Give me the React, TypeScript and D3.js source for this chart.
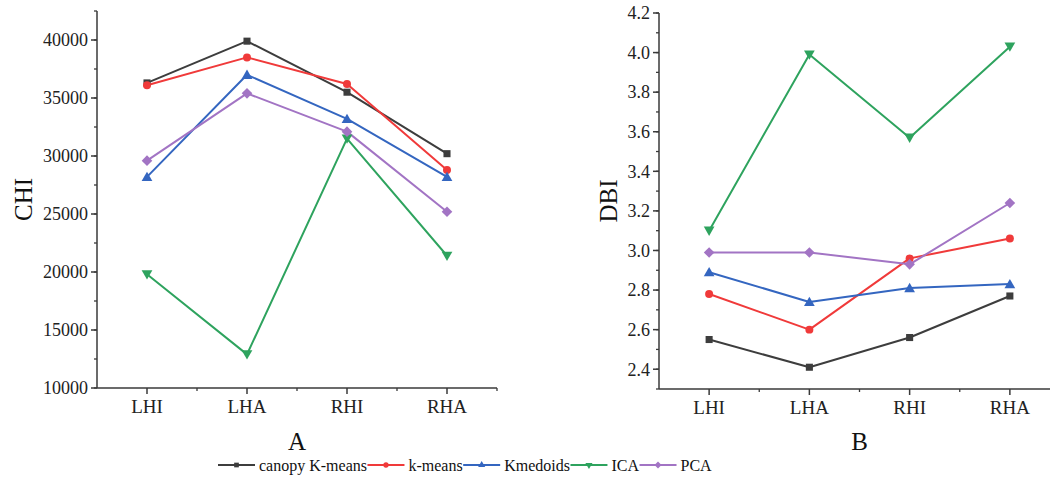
import React, { useEffect, useRef } from "react";
import * as d3 from "d3";

const categories = ["LHI", "LHA", "RHI", "RHA"];
const seriesNames = ["canopy K-means", "k-means", "Kmedoids", "ICA", "PCA"];
const seriesColors = ["#3d3d3d", "#f03a3a", "#3466c0", "#2ea35e", "#a274c4"];
const seriesMarkers = ["square", "circle", "triangle", "triangleDown", "diamond"];

const chiCanopy = [36300, 39900, 35500, 30200];
const chiKmeans = [36100, 38500, 36200, 28800];
const chiKmedoids = [28200, 37000, 33200, 28200];
const chiICA = [19800, 12900, 31500, 21400];
const chiPCA = [29600, 35400, 32100, 25200];

const dbiCanopy = [2.55, 2.41, 2.56, 2.77];
const dbiKmeans = [2.78, 2.6, 2.96, 3.06];
const dbiKmedoids = [2.89, 2.74, 2.81, 2.83];
const dbiICA = [3.1, 3.99, 3.57, 4.03];
const dbiPCA = [2.99, 2.99, 2.93, 3.24];

const chiTicks = [10000, 15000, 20000, 25000, 30000, 35000, 40000];
const dbiTicks = [2.4, 2.6, 2.8, 3.0, 3.2, 3.4, 3.6, 3.8, 4.0, 4.2];

const FONT = "'Liberation Serif', 'Times New Roman', serif";
const AXIS_COLOR = "#3a3a3a";

function markerPath(type: string, size: number) {
  if (type === "diamond") {
    const r = Math.sqrt(size) * 0.75;
    return `M0,${-r}L${r},0L0,${r}L${-r},0Z`;
  }
  const map: Record<string, d3.SymbolType> = {
    square: d3.symbolSquare,
    circle: d3.symbolCircle,
    triangle: d3.symbolTriangle,
    triangleDown: d3.symbolTriangle,
  };
  return d3.symbol().type(map[type]).size(size)() as string;
}

function drawPanel(
  g: d3.Selection<SVGGElement, unknown, null, undefined>,
  opts: {
    x0: number; x1: number; y0: number; y1: number;
    domain: [number, number]; ticks: number[]; minorStep: number;
    fmt: (v: number) => string; data: number[][]; yTitle: string; yTitleX: number; label: string;
  }
) {
  const x = d3.scaleLinear().domain([-0.5, 3.5]).range([opts.x0, opts.x1]);
  const y = d3.scaleLinear().domain(opts.domain).range([opts.y1, opts.y0]);

  g.append("line").attr("x1", opts.x0).attr("x2", opts.x0).attr("y1", opts.y0).attr("y2", opts.y1)
    .attr("stroke", AXIS_COLOR).attr("stroke-width", 1.5);
  g.append("line").attr("x1", opts.x0).attr("x2", opts.x1).attr("y1", opts.y1).attr("y2", opts.y1)
    .attr("stroke", AXIS_COLOR).attr("stroke-width", 1.5);

  const minor: number[] = [];
  for (let v = opts.domain[0]; v <= opts.domain[1] + 1e-9; v += opts.minorStep) minor.push(+v.toFixed(6));
  g.selectAll(null).data(minor).enter().append("line")
    .attr("x1", opts.x0 - 3).attr("x2", opts.x0).attr("y1", (d) => y(d)).attr("y2", (d) => y(d))
    .attr("stroke", AXIS_COLOR).attr("stroke-width", 1.3);
  g.selectAll(null).data(opts.ticks).enter().append("line")
    .attr("x1", opts.x0 - 6).attr("x2", opts.x0).attr("y1", (d) => y(d)).attr("y2", (d) => y(d))
    .attr("stroke", AXIS_COLOR).attr("stroke-width", 1.5);
  g.selectAll(null).data(opts.ticks).enter().append("text")
    .attr("x", opts.x0 - 9).attr("y", (d) => y(d)).attr("dy", "0.35em")
    .attr("text-anchor", "end").attr("font-family", FONT).attr("font-size", 18).attr("fill", "#222")
    .text((d) => opts.fmt(d));

  const majorX = categories.map((_, i) => i);
  const minorX = [0.5, 1.5, 2.5, 3.5];
  g.selectAll(null).data(majorX).enter().append("line")
    .attr("x1", (d) => x(d)).attr("x2", (d) => x(d)).attr("y1", opts.y1).attr("y2", opts.y1 + 6)
    .attr("stroke", AXIS_COLOR).attr("stroke-width", 1.5);
  g.selectAll(null).data(minorX).enter().append("line")
    .attr("x1", (d) => x(d)).attr("x2", (d) => x(d)).attr("y1", opts.y1).attr("y2", opts.y1 + 3)
    .attr("stroke", AXIS_COLOR).attr("stroke-width", 1.3);
  g.selectAll(null).data(categories).enter().append("text")
    .attr("x", (_, i) => x(i)).attr("y", opts.y1 + 25)
    .attr("text-anchor", "middle").attr("font-family", FONT).attr("font-size", 19).attr("fill", "#222")
    .text((d) => d);

  g.append("text").attr("transform", `translate(${opts.yTitleX},${(opts.y0 + opts.y1) / 2}) rotate(-90)`)
    .attr("text-anchor", "middle").attr("font-family", FONT).attr("font-size", 25).attr("fill", "#111")
    .text(opts.yTitle);
  g.append("text").attr("x", (opts.x0 + opts.x1) / 2).attr("y", 450)
    .attr("text-anchor", "middle").attr("font-family", FONT).attr("font-size", 25).attr("fill", "#111")
    .text(opts.label);

  const line = d3.line<number>().x((_, i) => x(i)).y((d) => y(d));
  opts.data.forEach((vals, si) => {
    g.append("path").attr("d", line(vals) as string).attr("fill", "none")
      .attr("stroke", seriesColors[si]).attr("stroke-width", 2).attr("stroke-linejoin", "round");
  });
  opts.data.forEach((vals, si) => {
    const type = seriesMarkers[si];
    g.selectAll(null).data(vals).enter().append("path")
      .attr("d", markerPath(type, 50))
      .attr("transform", (d, i) => `translate(${x(i)},${y(d) + (type === "triangle" ? 1 : type === "triangleDown" ? -1 : 0)})${type === "triangleDown" ? " rotate(180)" : ""}`)
      .attr("fill", seriesColors[si]);
  });
}

export default function App() {
  const ref = useRef<SVGSVGElement>(null);
  useEffect(() => {
    const svg = d3.select(ref.current!);
    svg.selectAll("*").remove();

    drawPanel(svg.append("g"), {
      x0: 97, x1: 497, y0: 11, y1: 388, domain: [10000, 42500], ticks: chiTicks, minorStep: 2500,
      fmt: (v) => String(v), data: [chiCanopy, chiKmeans, chiKmedoids, chiICA, chiPCA],
      yTitle: "CHI", yTitleX: 32, label: "A",
    });
    drawPanel(svg.append("g"), {
      x0: 659, x1: 1060, y0: 13, y1: 389, domain: [2.3, 4.2], ticks: dbiTicks, minorStep: 0.1,
      fmt: (v) => v.toFixed(1), data: [dbiCanopy, dbiKmeans, dbiKmedoids, dbiICA, dbiPCA],
      yTitle: "DBI", yTitleX: 617, label: "B",
    });

    const lg = svg.append("g");
    let cx = 218;
    const ly = 465;
    seriesNames.forEach((name, si) => {
      lg.append("line").attr("x1", cx).attr("x2", cx + 37).attr("y1", ly).attr("y2", ly)
        .attr("stroke", seriesColors[si]).attr("stroke-width", 2);
      const type = seriesMarkers[si];
      lg.append("path").attr("d", markerPath(type, 22))
        .attr("transform", `translate(${cx + 18.5},${ly})${type === "triangleDown" ? " rotate(180)" : ""}`)
        .attr("fill", seriesColors[si]);
      const t = lg.append("text").attr("x", cx + 41).attr("y", ly + 6)
        .attr("font-family", FONT).attr("font-size", 16).attr("fill", "#111").text(name);
      const w = (t.node() as SVGTextElement).getComputedTextLength();
      cx = cx + 41 + w + 0.5;
    });
  }, []);
  return (
    <svg ref={ref} width={1050} height={487}
      style={{ position: "absolute", left: 0, top: 0, background: "#fff" }} />
  );
}
